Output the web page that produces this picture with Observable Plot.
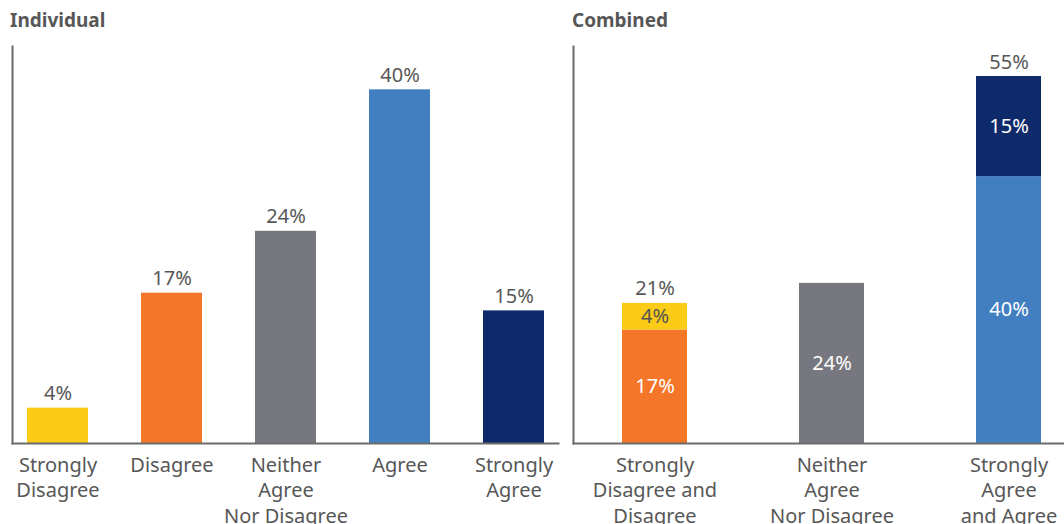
<!DOCTYPE html>
<html><head><meta charset="utf-8">
<script src="https://cdn.jsdelivr.net/npm/d3@7"></script>
<script src="https://cdn.jsdelivr.net/npm/@observablehq/plot@0.6"></script>
<style>
body{margin:0;background:#fff;overflow:hidden;font-family:"Noto Sans",sans-serif;}
#wrap{position:relative;width:1064px;height:524px;overflow:hidden;background:#fff;}
.panel{position:absolute;}
.panel svg{max-width:none !important;}
.title{position:absolute;top:7px;font-weight:700;font-size:19px;color:#575757;font-family:"Noto Sans",sans-serif;}
</style></head>
<body><div id="wrap">
 <div class="title" style="left:10px">Individual</div>
 <div class="title" style="left:572px">Combined</div>
 <div id="left" class="panel" style="left:0;top:36px;width:560px"></div>
 <div id="right" class="panel" style="left:560px;top:36px;width:530px"></div>
</div>
<script>
// ---- Data ----
const responses = ["Strongly Disagree", "Disagree", "Neither Agree Nor Disagree", "Agree", "Strongly Agree"];
const responseValues = [4, 17, 24, 40, 15];
const responseColors = ["#FBCB16", "#F37629", "#77787F", "#427FC1", "#0F2A6B"];
const responseTickLabels = ["Strongly\nDisagree", "Disagree", "Neither\nAgree\nNor Disagree", "Agree", "Strongly\nAgree"];

const groups = ["Strongly Disagree and Disagree", "Neither Agree Nor Disagree", "Strongly Agree and Agree"];
const groupTickLabels = ["Strongly\nDisagree and\nDisagree", "Neither\nAgree\nNor Disagree", "Strongly\nAgree\nand Agree"];
const groupTotals = [21, null, 55];

const segmentGroups = ["Strongly Disagree and Disagree", "Strongly Disagree and Disagree", "Neither Agree Nor Disagree", "Strongly Agree and Agree", "Strongly Agree and Agree"];
const segmentResponses = ["Disagree", "Strongly Disagree", "Neither Agree Nor Disagree", "Agree", "Strongly Agree"];
const segmentValues = [17, 4, 24, 40, 15];
const segmentLabelColors = ["#ffffff", "#555555", "#ffffff", "#ffffff", "#ffffff"];

// ---- Tables ----
const individual = responses.map((r, i) => ({response: r, value: responseValues[i]}));
const segments = segmentGroups.map((g, i) => ({group: g, response: segmentResponses[i], value: segmentValues[i], labelColor: segmentLabelColors[i]}));
const totals = groups.map((g, i) => ({group: g, total: groupTotals[i]})).filter(d => d.total != null);

const textColor = "#575757";
const axisColor = "#6b6b6b";
const font = "'Noto Sans', sans-serif";
const fs = 20;

const left = Plot.plot({
  width: 560, height: 540,
  marginTop: 10, marginLeft: 12, marginRight: 2, marginBottom: 133,
  style: {fontFamily: font, background: "transparent", color: textColor, maxWidth: "none"},
  x: {domain: responses, paddingInner: 0.467, paddingOuter: 0.118, label: null},
  y: {domain: [0, 44.9], axis: null},
  color: {domain: responses, range: responseColors},
  marks: [
    Plot.barY(individual, {x: "response", y: "value", fill: "response"}),
    Plot.text(individual, {x: "response", y: "value", text: d => d.value + "%", lineAnchor: "bottom", dy: -8, fontSize: fs, fill: textColor}),
    Plot.frame({anchor: "left", stroke: axisColor, strokeWidth: 2}),
    Plot.frame({anchor: "bottom", stroke: axisColor, strokeWidth: 2}),
    Plot.axisX({tickSize: 0, tickPadding: 10, fontSize: fs, lineHeight: 1.28, fill: textColor, label: null,
      tickFormat: d => responseTickLabels[responses.indexOf(d)]})
  ]
});
document.getElementById("left").appendChild(left);

const right = Plot.plot({
  width: 530, height: 540,
  marginTop: 10, marginLeft: 13, marginRight: 0, marginBottom: 133,
  style: {fontFamily: font, background: "transparent", color: textColor, maxWidth: "none"},
  x: {domain: groups, paddingInner: 0.63, paddingOuter: 0.275, label: null},
  y: {domain: [0, 59.5], axis: null},
  color: {domain: responses, range: responseColors},
  marks: [
    Plot.barY(segments, {x: "group", y: "value", fill: "response"}),
    Plot.text(segments, Plot.stackY({x: "group", y: "value", text: d => d.value + "%", fontSize: fs, fill: d => d.labelColor})),
    Plot.text(totals, {x: "group", y: "total", text: d => d.total + "%", lineAnchor: "bottom", dy: -8, fontSize: fs, fill: textColor}),
    Plot.frame({anchor: "left", stroke: axisColor, strokeWidth: 2}),
    Plot.frame({anchor: "bottom", stroke: axisColor, strokeWidth: 2}),
    Plot.axisX({tickSize: 0, tickPadding: 10, fontSize: fs, lineHeight: 1.28, fill: textColor, label: null,
      tickFormat: d => groupTickLabels[groups.indexOf(d)]})
  ]
});
document.getElementById("right").appendChild(right);
</script>
</body></html>
